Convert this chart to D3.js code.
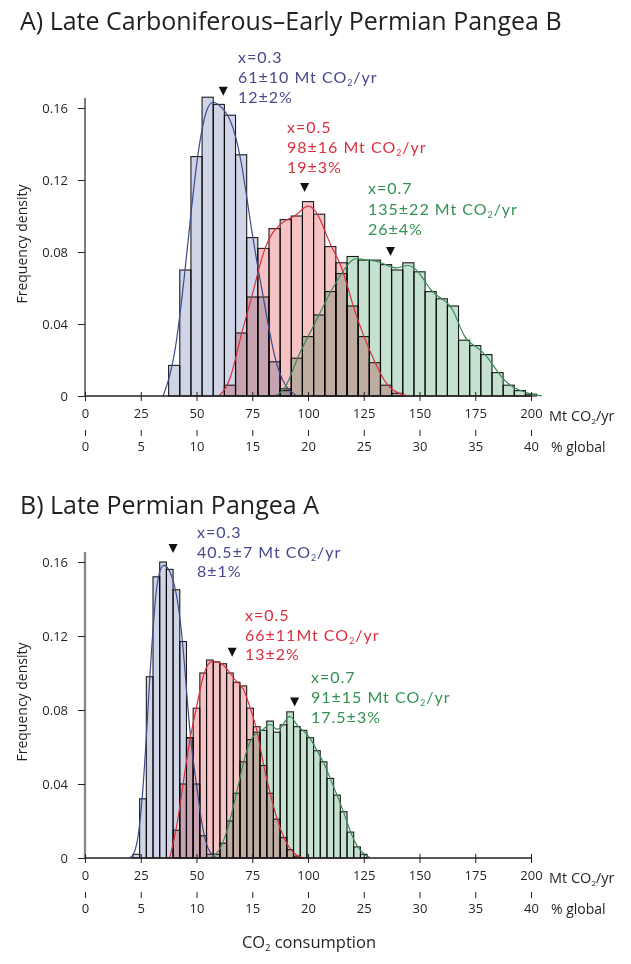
<!DOCTYPE html>
<html>
<head>
<meta charset="utf-8">
<script src="https://cdn.jsdelivr.net/npm/d3@7"></script>
<style>
body{margin:0;background:#fff}
svg text{font-family:"Open Sans","Noto Sans",sans-serif;fill:#231f20}
.axis path,.axis line{stroke:#231f20}
.axis text{font-size:13px;fill:#231f20}
.bar{stroke:#1a1a1a;stroke-width:1.1;mix-blend-mode:multiply}
.fit{fill:none;stroke-width:1.2}
.t_title{font-size:25px}
svg text.t_note{font-family:Lato,"Open Sans",sans-serif;font-size:16px;letter-spacing:1px}
.t_lab{font-size:13px}
</style>
</head>
<body>
<svg width="631" height="964"></svg>
<script>

/* ----------------------------------------------------------
data
---------------------------------------------------------- */

var xTicksMt = [0,25,50,75,100,125,150,175,200];
var xTicksPct = [0,5,10,15,20,25,30,35,40];
var yTicks = [0,0.04,0.08,0.12,0.16];

// panel A : bins 5 Mt wide, first value = centre of first bin
var binA = 5;
var blueA0 = 35;
var blueA = [0,0.017,0.070,0.133,0.166,0.162,0.156,0.134,0.088,0.055,0.019,0.004,0];
var redA0 = 60;
var redA = [0,0.006,0.035,0.055,0.082,0.093,0.098,0.100,0.108,0.101,0.083,0.074,0.050,0.033,0.0185,0.006,0.0015,0];
var greenA0 = 85;
var greenA = [0,0.003,0.021,0.033,0.045,0.058,0.068,0.0775,0.0755,0.0755,0.073,0.070,0.074,0.069,0.058,0.054,0.050,0.031,0.028,0.023,0.013,0.006,0.003,0.001,0];

// panel B : bins 3 Mt wide
var binB = 3;
var blueB0 = 20;
var blueB = [0,0.002,0.032,0.098,0.152,0.160,0.156,0.145,0.117,0.065,0.040,0.012,0.002,0];
var redB0 = 38;
var redB = [0,0.015,0.040,0.065,0.081,0.100,0.107,0.106,0.105,0.100,0.095,0.093,0.081,0.071,0.050,0.035,0.021,0.011,0.0045,0.001,0];
var greenB0 = 56;
var greenB = [0,0.002,0.008,0.020,0.035,0.052,0.064,0.068,0.069,0.074,0.068,0.072,0.079,0.071,0.069,0.065,0.058,0.052,0.043,0.034,0.025,0.014,0.006,0.002,0];

// arrow markers [Mt, density]
var markA = [[62,0.169],[98.5,0.1155],[137,0.080]];
var markB = [[39.5,0.167],[66,0.111],[94,0.084]];

var noteA = [["x=0.3","61±10 Mt CO₂/yr","12±2%"],["x=0.5","98±16 Mt CO₂/yr","19±3%"],["x=0.7","135±22 Mt CO₂/yr","26±4%"]];
var noteB = [["x=0.3","40.5±7 Mt CO₂/yr","8±1%"],["x=0.5","66±11Mt CO₂/yr","13±2%"],["x=0.7","91±15 Mt CO₂/yr","17.5±3%"]];

var fills = ["#cfd5e7","#f6c2c4","#c5e2d0"];
var lines = ["#3d4a8e","#dc2f3c","#3b8c5a"];
var textCol = ["#46498c","#d9303f","#339152"];

/* ----------------------------------------------------------
setting
---------------------------------------------------------- */
var svg = d3.select("svg");

var panels = [
	{title:"A) Late Carboniferous–Early Permian Pangea B", titleY:30, base:396, top:108, bw:binA,
	 series:[[blueA0,blueA],[redA0,redA],[greenA0,greenA]], marks:markA, notes:noteA,
	 notePos:[[238,63],[287,133],[368,194]], lh:[20,20,20.5], yAxisCol:"#231f20", yAxisW:1.2},
	{title:"B) Late Permian Pangea A", titleY:514, base:858, top:562, bw:binB,
	 series:[[blueB0,blueB],[redB0,redB],[greenB0,greenB]], marks:markB, notes:noteB,
	 notePos:[[197,538],[245,621],[311,683]], lh:[19.5,19.5,20], yAxisCol:"#8a8a8a", yAxisW:2.4}
];

var x = d3.scaleLinear().domain([0,200]).range([85,531]);
var xp = d3.scaleLinear().domain([0,40]).range([85,531]);

// text with a subscript 2 in CO2
function subText(sel, str){
	var parts = str.split("₂");
	var dy = 0;
	parts.forEach(function(p,i){
		sel.append("tspan").attr("dy",dy).text(p);
		dy = 0;
		if(i < parts.length-1){
			sel.append("tspan").attr("dy",3).style("font-size","0.55em").text("2");
			dy = -3;
		}
	});
}

panels.forEach(function(P){
	var y = d3.scaleLinear().domain([0,0.16]).range([P.base,P.top]);

	svg.append("text").attr("x",20).attr("y",P.titleY).attr("class","t_title").text(P.title);

	// bars
	var gBars = svg.append("g");
	P.series.forEach(function(s,k){
		var pts = s[1].map(function(v,i){ return {c:s[0]+i*P.bw, v:v}; });
		gBars.selectAll(".b"+k).data(pts.filter(function(d){return d.v>0;}))
			.enter().append("rect")
			.attr("class","bar")
			.attr("x",function(d){return x(d.c-P.bw/2);})
			.attr("width",function(d){return x(d.c+P.bw/2)-x(d.c-P.bw/2);})
			.attr("y",function(d){return y(d.v);})
			.attr("height",function(d){return P.base-y(d.v);})
			.style("fill",fills[k]);
	});
	// fitted curves
	P.series.forEach(function(s,k){
		var pts = s[1].map(function(v,i){ return {c:s[0]+i*P.bw, v:v}; });
		var ln = d3.line().x(function(d){return x(d.c);}).y(function(d){return y(d.v);}).curve(d3.curveBasis);
		svg.append("path").attr("class","fit").attr("d",ln(pts)).style("stroke",lines[k]);
	});

	// y axis
	var gy = svg.append("g").attr("class","axis").attr("transform","translate(85,0)")
		.call(d3.axisLeft(y).tickValues(yTicks).tickSize(7).tickPadding(10).tickFormat(function(d){return d==0?"0":d3.format(".2f")(d);}));
	gy.select(".domain").attr("d","M0,"+P.base+"V"+(P.top-10)).style("stroke",P.yAxisCol).style("stroke-width",P.yAxisW);

	// x axis (Mt)
	var gx = svg.append("g").attr("class","axis").attr("transform","translate(0,"+P.base+")")
		.call(d3.axisBottom(x).tickValues(xTicksMt).tickSize(5).tickPadding(8));
	gx.select(".domain").attr("d","M85,0H531").style("stroke-width",1.3);
	gx.selectAll(".tick line").attr("y1",-4);
	svg.append("text").attr("x",549).attr("y",P.base+25).attr("class","t_lab").style("font-size","14.5px").call(subText,"Mt CO₂/yr");

	// x axis (% global)
	var gp = svg.append("g").attr("class","axis").attr("transform","translate(0,"+(P.base+34)+")")
		.call(d3.axisBottom(xp).tickValues(xTicksPct).tickSize(6).tickPadding(6));
	gp.select(".domain").remove();
	svg.append("text").attr("x",551).attr("y",P.base+56).attr("class","t_lab").style("font-size","14px").text("% global");

	svg.append("text").attr("transform","translate(27,"+((P.base+P.top)/2-8)+") rotate(-90)")
		.attr("text-anchor","middle").attr("class","t_lab").style("font-size","14px").text("Frequency density");

	// markers + notes
	var tri = "M-4.5,-5L4.5,-5L0,4Z";
	P.marks.forEach(function(m){
		svg.append("path").attr("d",tri).attr("transform","translate("+x(m[0])+","+y(m[1])+")").style("fill","#111");
	});
	P.notes.forEach(function(n,k){
		n.forEach(function(line,j){
			svg.append("text").attr("x",P.notePos[k][0]).attr("y",P.notePos[k][1]+j*P.lh[k])
				.attr("class","t_note").style("fill",textCol[k]).call(subText,line);
		});
	});
});

svg.append("text").attr("x",309).attr("y",948).attr("text-anchor","middle").attr("class","t_lab")
	.style("font-size","16.5px").call(subText,"CO₂ consumption");

</script>
</body>
</html>
